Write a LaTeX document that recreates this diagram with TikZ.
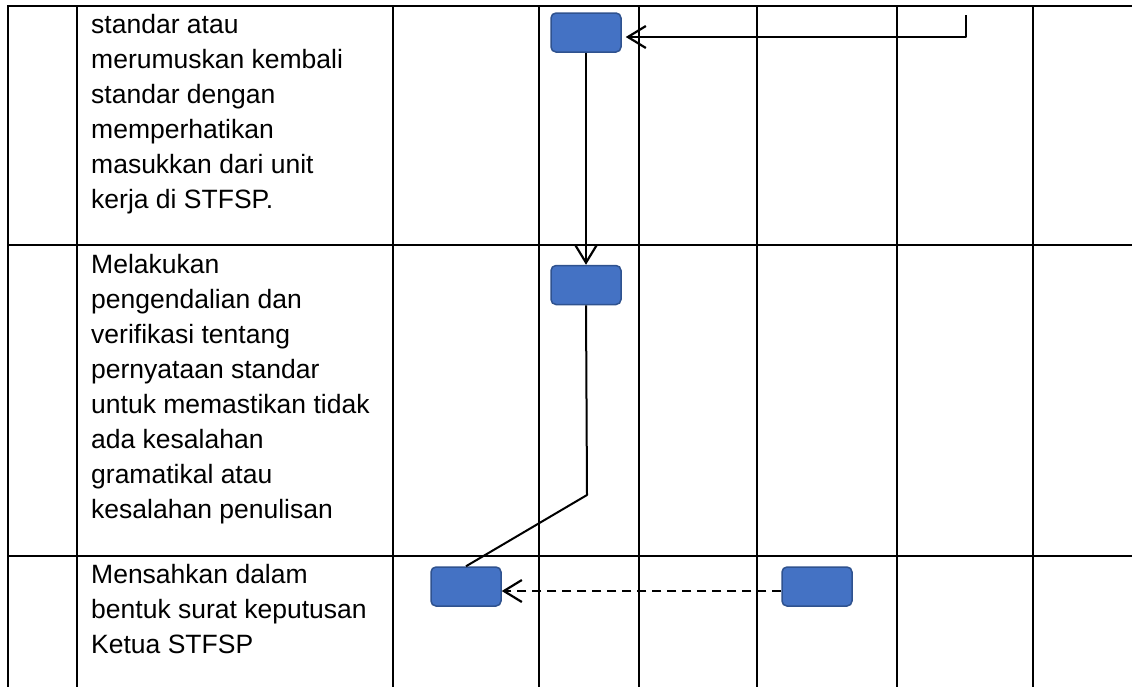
\documentclass[tikz,border=0pt]{standalone}
\usepackage{fontspec}
\setmainfont{Liberation Sans}
\usetikzlibrary{arrows.meta}
\definecolor{boxblue}{HTML}{4472C4}
\definecolor{boxedge}{HTML}{2F528F}
\tikzset{
	grid/.style={line width=2.2pt, line cap=rect},
	proc/.style={draw=boxedge, fill=boxblue, line width=1.5pt, rounded corners=5pt,
		minimum width=70pt, minimum height=39pt, inner sep=0pt},
	task/.style={anchor=base west, inner sep=0pt, align=left,
		font=\fontsize{26.5}{35}\selectfont},
	link/.style={line width=2pt}
}
\begin{document}
\begin{tikzpicture}[x=1pt, y=-1pt, line join=round, >={Straight Barb[length=18pt,width=22pt,line width=2.2pt]}]
		\def\xmax{1132}\def\ymin{6}\def\ymax{686}
		\useasboundingbox (0,0) rectangle (\xmax,\ymax);
		% table lines
		\foreach \x in {8,77,393,539,639,757,897,1033}\draw[grid] (\x,\ymin)--(\x,\ymax);
		\foreach \y in {\ymin,245,556}\draw[grid] (8,\y)--(\xmax,\y);
		% activities (placed at the baseline of their last line)
		\node[task] (t1) at (91,208) {standar atau\\merumuskan kembali\\standar dengan\\memperhatikan\\masukkan dari unit\\kerja di STFSP.};
		\node[task] (t2) at (91,518) {Melakukan\\pengendalian dan\\verifikasi tentang\\pernyataan standar\\untuk memastikan tidak\\ada kesalahan\\gramatikal atau\\kesalahan penulisan};
		\node[task] (t3) at (91,653) {Mensahkan dalam\\bentuk surat keputusan\\Ketua STFSP};
		% flow boxes
		\node[proc] (b1) at (586,32.5) {};
		\node[proc] (b2) at (586,285) {};
		\node[proc] (b3) at (466,586.5) {};
		\node[proc] (b4) at (817,586.5) {};
		\coordinate (in) at (966,15);
		\coordinate (bend) at (587,495);
		\draw[link,->,shorten >=4pt] (in) |- ([yshift=-4.5pt]b1.east);
		\draw[link,->] (b1.south) -- (b2.north);
		\draw[link] (b2.south) -- (bend) -- (b3.north);
		\draw[link,->,dash pattern=on 9pt off 6pt] ([yshift=-4.5pt]b4.west) -- ([yshift=-4.5pt]b3.east);
\end{tikzpicture}
\end{document}
